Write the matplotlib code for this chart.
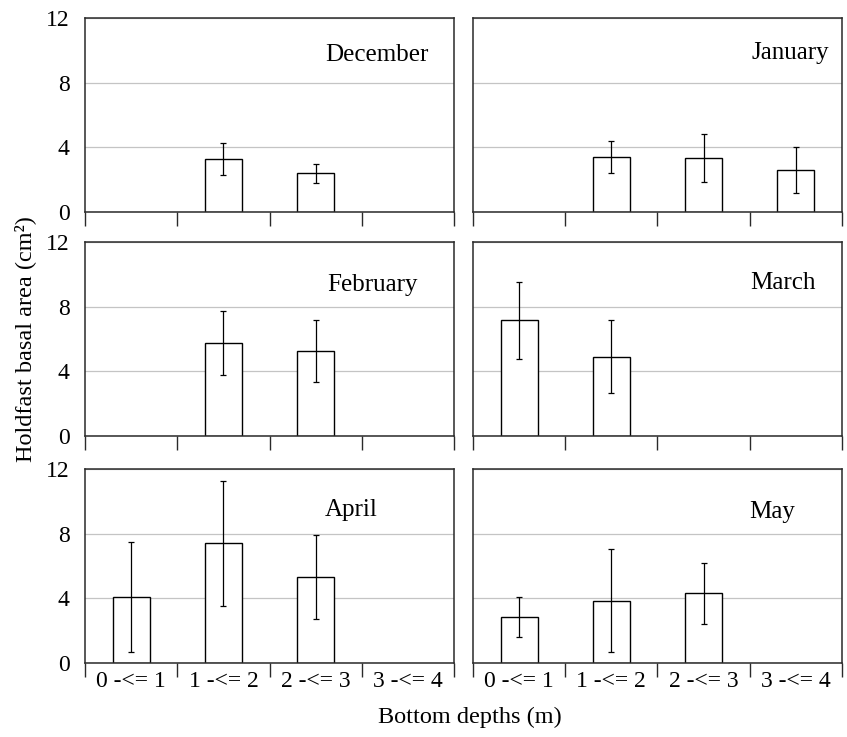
import matplotlib
matplotlib.use("Agg")
import matplotlib.pyplot as plt
import numpy as np

plt.rcParams['font.family'] = ['Liberation Serif', 'DejaVu Serif']

depths = ['0 -<= 1', '1 -<= 2', '2 -<= 3', '3 -<= 4']
months = ['December', 'January', 'February', 'March', 'April', 'May']

# mean holdfast basal area per depth class (nan = no data)
nan = np.nan
dec_mean = [nan, 3.3, 2.4, nan]
dec_err = [nan, 1.0, 0.58, nan]
jan_mean = [nan, 3.4, 3.35, 2.6]
jan_err = [nan, 1.0, 1.5, 1.4]
feb_mean = [nan, 5.75, 5.25, nan]
feb_err = [nan, 2.0, 1.9, nan]
mar_mean = [7.15, 4.9, nan, nan]
mar_err = [2.4, 2.25, nan, nan]
apr_mean = [4.1, 7.4, 5.3, nan]
apr_err = [3.4, 3.85, 2.6, nan]
may_mean = [2.85, 3.85, 4.3, nan]
may_err = [1.25, 3.2, 1.9, nan]

means = [dec_mean, jan_mean, feb_mean, mar_mean, apr_mean, may_mean]
errs = [dec_err, jan_err, feb_err, mar_err, apr_err, may_err]

# month label positions (axes fraction)
label_x = [0.79, 0.86, 0.78, 0.84, 0.72, 0.81]
label_y = [0.81, 0.82, 0.78, 0.79, 0.79, 0.78]

fig = plt.figure(figsize=(8.47, 7.37), dpi=100)

col_x = [0.1004, 0.5584]
row_y = [0.7123, 0.4084, 0.1004]
w, h = 0.4357, 0.2632

x = np.arange(len(depths))
edge = '#2a2a2a'
for i, m in enumerate(months):
    r, c = divmod(i, 2)
    ax = fig.add_axes([col_x[c], row_y[r], w, h])
    ax.set_xlim(-0.5, 3.5)
    ax.set_ylim(0, 12)
    ax.set_yticks([0, 4, 8, 12])
    ax.yaxis.grid(True, color='#c4c4c4', lw=0.9)
    ax.set_axisbelow(True)
    mv = np.array(means[i])
    ev = np.array(errs[i])
    ok = ~np.isnan(mv)
    ax.bar(x[ok], mv[ok], width=0.4, color='white', edgecolor='black', lw=1.0, zorder=2)
    ax.errorbar(x[ok], mv[ok], yerr=ev[ok], fmt='none', ecolor='black',
                elinewidth=0.9, capsize=2, capthick=0.9, zorder=3)
    # category boundary ticks
    ax.set_xticks(np.arange(-0.5, 4.0, 1.0))
    ax.set_xticklabels([])
    ax.tick_params(axis='x', which='major', direction='out', length=10, width=1.0, color=edge)
    ax.set_xticks(x, minor=True)
    if r == 2:
        ax.set_xticklabels(depths, minor=True, fontsize=17)
    ax.tick_params(axis='x', which='minor', length=0, pad=6)
    ax.tick_params(axis='y', length=0, pad=11, labelsize=17)
    if c == 1:
        ax.set_yticklabels([])
    for s in ax.spines.values():
        s.set_color(edge)
        s.set_linewidth(1.1)
    ax.text(label_x[i], label_y[i], m, transform=ax.transAxes, ha='center', va='center',
            fontsize=18)

fig.text(0.555, 0.026, 'Bottom depths (m)', ha='center', va='center', fontsize=17.5)
fig.text(0.03, 0.54, 'Holdfast basal area (cm²)', ha='center', va='center',
         rotation=90, fontsize=17.5)

fig.savefig('out.png', dpi=100)
